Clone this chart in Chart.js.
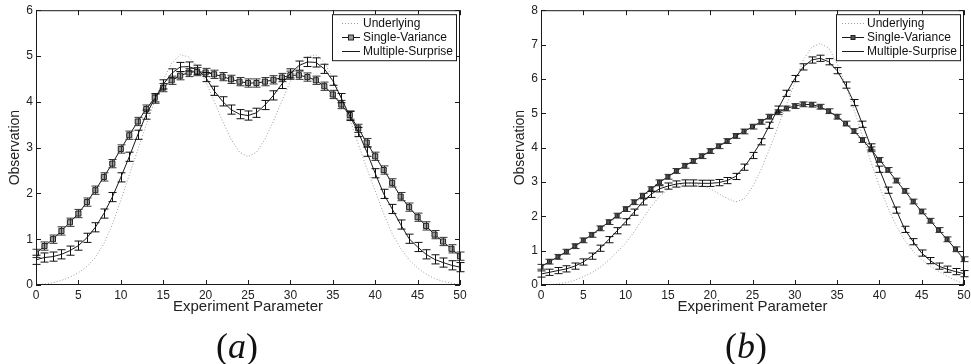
<!DOCTYPE html>
<html>
<head>
<meta charset="utf-8">
<script src="https://cdn.jsdelivr.net/npm/chart.js@4.4.1/dist/chart.umd.min.js"></script>
<style>
  html, body { margin: 0; padding: 0; background: #fff; }
  body { width: 971px; height: 364px; position: relative; overflow: hidden; }
  .panel { position: absolute; top: 0; }
  .caption { position: absolute; font-family: "Liberation Serif", "DejaVu Serif", serif; font-size: 36px; color: #111;
             transform: translate(-50%, -50%); white-space: nowrap; }
</style>
</head>
<body>
<div class="panel" style="left:0;width:485px;height:364px"><canvas id="chartA" width="485" height="364"></canvas></div>
<div class="panel" style="left:485px;width:486px;height:364px"><canvas id="chartB" width="486" height="364"></canvas></div>
<div class="caption" style="left:237px;top:346px">(<i>a</i>)</div>
<div class="caption" style="left:746px;top:346px">(<i>b</i>)</div>

<script>
// Experiment parameter (x) shared by both panels
const params = [0,1,2,3,4,5,6,7,8,9,10,11,12,13,14,15,16,17,18,19,20,21,22,23,24,25,
  26,27,28,29,30,31,32,33,34,35,36,37,38,39,40,41,42,43,44,45,46,47,48,49,50];

const seriesNames = ["Underlying", "Single-Variance", "Multiple-Surprise"];

// Panel (a)
const underlyingA = [0.00,0.02,0.05,0.10,0.17,0.27,0.40,0.60,0.90,1.32,1.85,2.40,2.95,3.50,4.02,4.48,4.84,5.03,4.98,4.78,
  4.45,4.02,3.58,3.18,2.90,2.80,2.90,3.18,3.58,4.02,4.45,4.78,4.98,5.03,4.86,4.52,4.10,3.62,3.08,2.55,
  2.05,1.56,1.12,0.80,0.55,0.37,0.24,0.14,0.08,0.04,0.01];
const singleA = [0.69,0.85,1.00,1.18,1.37,1.56,1.81,2.07,2.36,2.65,2.97,3.27,3.57,3.84,4.09,4.31,4.47,4.57,4.64,4.66,
  4.64,4.60,4.55,4.49,4.44,4.41,4.41,4.44,4.48,4.53,4.58,4.58,4.54,4.47,4.34,4.16,3.94,3.71,3.42,3.11,
  2.81,2.51,2.23,1.93,1.70,1.48,1.29,1.10,0.95,0.79,0.63];
const multipleA = [0.55,0.60,0.62,0.67,0.75,0.86,1.03,1.26,1.56,1.92,2.35,2.80,3.28,3.72,4.07,4.38,4.62,4.76,4.77,4.70,
  4.54,4.24,4.01,3.83,3.73,3.70,3.76,3.93,4.14,4.39,4.62,4.79,4.87,4.86,4.72,4.46,4.08,3.69,3.34,2.91,
  2.44,1.99,1.66,1.32,1.01,0.83,0.67,0.56,0.49,0.43,0.39];

// Panel (b)
const underlyingB = [0.00,0.01,0.03,0.07,0.14,0.24,0.36,0.52,0.72,0.96,1.22,1.55,1.92,2.28,2.58,2.78,2.90,2.95,2.95,2.90,
  2.80,2.66,2.52,2.42,2.50,2.85,3.35,3.95,4.60,5.25,5.88,6.55,6.92,7.03,6.90,6.45,5.82,5.10,4.35,3.58,
  2.88,2.25,1.72,1.30,0.98,0.74,0.55,0.40,0.26,0.13,0.04];
const singleB = [0.53,0.68,0.82,0.97,1.13,1.30,1.46,1.65,1.83,2.02,2.21,2.41,2.60,2.79,2.99,3.15,3.32,3.47,3.61,3.75,
  3.90,4.04,4.19,4.34,4.47,4.61,4.75,4.90,5.03,5.14,5.21,5.26,5.25,5.19,5.06,4.90,4.70,4.48,4.22,3.95,
  3.64,3.35,3.04,2.74,2.43,2.14,1.87,1.60,1.33,1.04,0.75];
const multipleB = [0.32,0.37,0.42,0.47,0.55,0.67,0.84,1.07,1.32,1.58,1.84,2.12,2.42,2.64,2.80,2.88,2.94,2.97,2.97,2.96,
  2.96,2.98,3.04,3.16,3.43,3.77,4.17,4.65,5.12,5.58,6.01,6.35,6.55,6.60,6.50,6.24,5.82,5.31,4.68,4.02,
  3.37,2.76,2.18,1.62,1.26,0.93,0.71,0.55,0.46,0.39,0.33];

// Half-height of the error bars (same units as y)
const errSingleA = 0.09, errMultipleA = 0.10;
const errSingleB = 0.07, errMultipleB = 0.09;

const xTicksStep = 5;
const yMaxA = 6, yMaxB = 8;

const FONT = "'Liberation Sans', Arial, sans-serif";
const INK = "#1a1a1a";

function toPoints(ys) {
  return params.map((x, i) => ({ x: x, y: ys[i] }));
}

// MATLAB style box with inward ticks on all four sides
const matlabFrame = {
  id: "matlabFrame",
  afterDatasetsDraw(chart) {
    const { ctx, chartArea: a, scales } = chart;
    ctx.save();
    ctx.strokeStyle = INK;
    ctx.lineWidth = 1;
    ctx.setLineDash([]);
    ctx.strokeRect(a.left + 0.5, a.top + 0.5, a.right - a.left - 1, a.bottom - a.top - 1);
    ctx.beginPath();
    scales.x.ticks.forEach(t => {
      const px = Math.round(scales.x.getPixelForValue(t.value)) + 0.5;
      ctx.moveTo(px, a.bottom); ctx.lineTo(px, a.bottom - 5);
      ctx.moveTo(px, a.top); ctx.lineTo(px, a.top + 5);
    });
    scales.y.ticks.forEach(t => {
      const py = Math.round(scales.y.getPixelForValue(t.value)) + 0.5;
      ctx.moveTo(a.left, py); ctx.lineTo(a.left + 5, py);
      ctx.moveTo(a.right, py); ctx.lineTo(a.right - 5, py);
    });
    ctx.stroke();
    ctx.restore();
  }
};

// Vertical error bars with caps, drawn right after their dataset
const errorBars = {
  id: "errorBars",
  afterDatasetDraw(chart, args) {
    const ds = chart.data.datasets[args.index];
    if (!ds.errorBar) return;
    const { ctx, scales: { x, y } } = chart;
    const cap = ds.capWidth || 4;
    ctx.save();
    ctx.strokeStyle = ds.errorColor || INK;
    ctx.lineWidth = 1;
    ctx.beginPath();
    ds.data.forEach(pt => {
      const px = Math.round(x.getPixelForValue(pt.x)) + 0.5;
      const top = y.getPixelForValue(pt.y + ds.errorBar);
      const bot = y.getPixelForValue(pt.y - ds.errorBar);
      ctx.moveTo(px, top); ctx.lineTo(px, bot);
      ctx.moveTo(px - cap, top); ctx.lineTo(px + cap, top);
      ctx.moveTo(px - cap, bot); ctx.lineTo(px + cap, bot);
    });
    ctx.stroke();
    ctx.restore();
  }
};

// Boxed legend in the upper right of the plot area
const boxLegend = {
  id: "boxLegend",
  afterDraw(chart, args, opts) {
    const { ctx, chartArea: a } = chart;
    const w = 124, h = 46;
    const left = a.right - 4 - w, top = a.top + 4;
    ctx.save();
    ctx.fillStyle = "#fff";
    ctx.fillRect(left, top, w, h);
    ctx.strokeStyle = INK;
    ctx.lineWidth = 1;
    ctx.strokeRect(left + 0.5, top + 0.5, w, h);
    ctx.font = "12px " + FONT;
    ctx.textBaseline = "middle";
    chart.data.datasets.forEach((ds, i) => {
      const yy = Math.round(top + 9 + i * 14) + 0.5;
      ctx.strokeStyle = ds.borderColor;
      ctx.lineWidth = ds.borderWidth;
      ctx.setLineDash(ds.borderDash || []);
      ctx.beginPath();
      ctx.moveTo(left + opts.sampleStart, yy);
      ctx.lineTo(left + 28, yy);
      ctx.stroke();
      ctx.setLineDash([]);
      if (ds.pointRadius > 0) {
        const cx = left + (opts.sampleStart + 28) / 2;
        const s = opts.markSize;
        ctx.fillStyle = ds.pointBackgroundColor;
        ctx.fillRect(cx - s / 2, yy - s / 2, s, s);
        ctx.strokeStyle = ds.pointBorderColor;
        ctx.strokeRect(cx - s / 2, yy - s / 2, s, s);
      }
      ctx.fillStyle = "#111";
      ctx.fillText(ds.label, left + 31, yy);
    });
    ctx.restore();
  }
};

function buildDatasets(under, single, multiple, errS, errM, markRadius, markFill) {
  return [
    {
      label: seriesNames[0], data: toPoints(under),
      borderColor: "#9a9a9a", borderWidth: 1, borderDash: [1, 2],
      pointRadius: 0, order: 3
    },
    {
      label: seriesNames[1], data: toPoints(single),
      borderColor: INK, borderWidth: 1,
      pointStyle: "rect", pointRadius: markRadius, pointBackgroundColor: markFill,
      pointBorderColor: "#222", pointBorderWidth: 1,
      errorBar: errS, errorColor: "#333", capWidth: 4, order: 2
    },
    {
      label: seriesNames[2], data: toPoints(multiple),
      borderColor: INK, borderWidth: 1,
      pointRadius: 0,
      errorBar: errM, errorColor: "#111", capWidth: 4, order: 1
    }
  ];
}

function buildOptions(yMax, yAxisWidth, yTitlePad, padRight, sampleStart, markSize) {
  return {
    responsive: false,
    animation: false,
    devicePixelRatio: 1,
    layout: { padding: { top: 10, right: padRight, bottom: 47, left: 0 } },
    elements: { line: { tension: 0 } },
    plugins: {
      legend: { display: false },
      tooltip: { enabled: false },
      boxLegend: { sampleStart: sampleStart, markSize: markSize }
    },
    scales: {
      x: {
        type: "linear", min: 0, max: 50,
        // fixed height, and no extra room reserved for the end labels
        afterFit: s => { s.height = 32; s.paddingLeft = 0; s.paddingRight = 0; },
        grid: { display: false, drawTicks: false },
        border: { display: false },
        ticks: { stepSize: xTicksStep, color: "#222", padding: 3, maxRotation: 0, font: { family: FONT, size: 12 } },
        title: { display: true, text: "Experiment Parameter", color: "#222",
                 padding: { top: 0, bottom: 1 }, font: { family: FONT, size: 15 } }
      },
      y: {
        min: 0, max: yMax,
        afterFit: s => { s.width = yAxisWidth; },
        grid: { display: false, drawTicks: false },
        border: { display: false },
        ticks: { stepSize: 1, color: "#222", padding: 3, font: { family: FONT, size: 12 } },
        title: { display: true, text: "Observation", color: "#222",
                 padding: { top: yTitlePad, bottom: 0 }, font: { family: FONT, size: 14 } }
      }
    }
  };
}

new Chart(document.getElementById("chartA"), {
  type: "line",
  data: { datasets: buildDatasets(underlyingA, singleA, multipleA, errSingleA, errMultipleA, 3.6, "#9a9a9a") },
  options: buildOptions(yMaxA, 36, 6.6, 25, 10, 5),
  plugins: [errorBars, matlabFrame, boxLegend]
});

new Chart(document.getElementById("chartB"), {
  type: "line",
  data: { datasets: buildDatasets(underlyingB, singleB, multipleB, errSingleB, errMultipleB, 2.8, "#555") },
  options: buildOptions(yMaxB, 56, 26.6, 7, 6, 4),
  plugins: [errorBars, matlabFrame, boxLegend]
});
</script>
</body>
</html>
